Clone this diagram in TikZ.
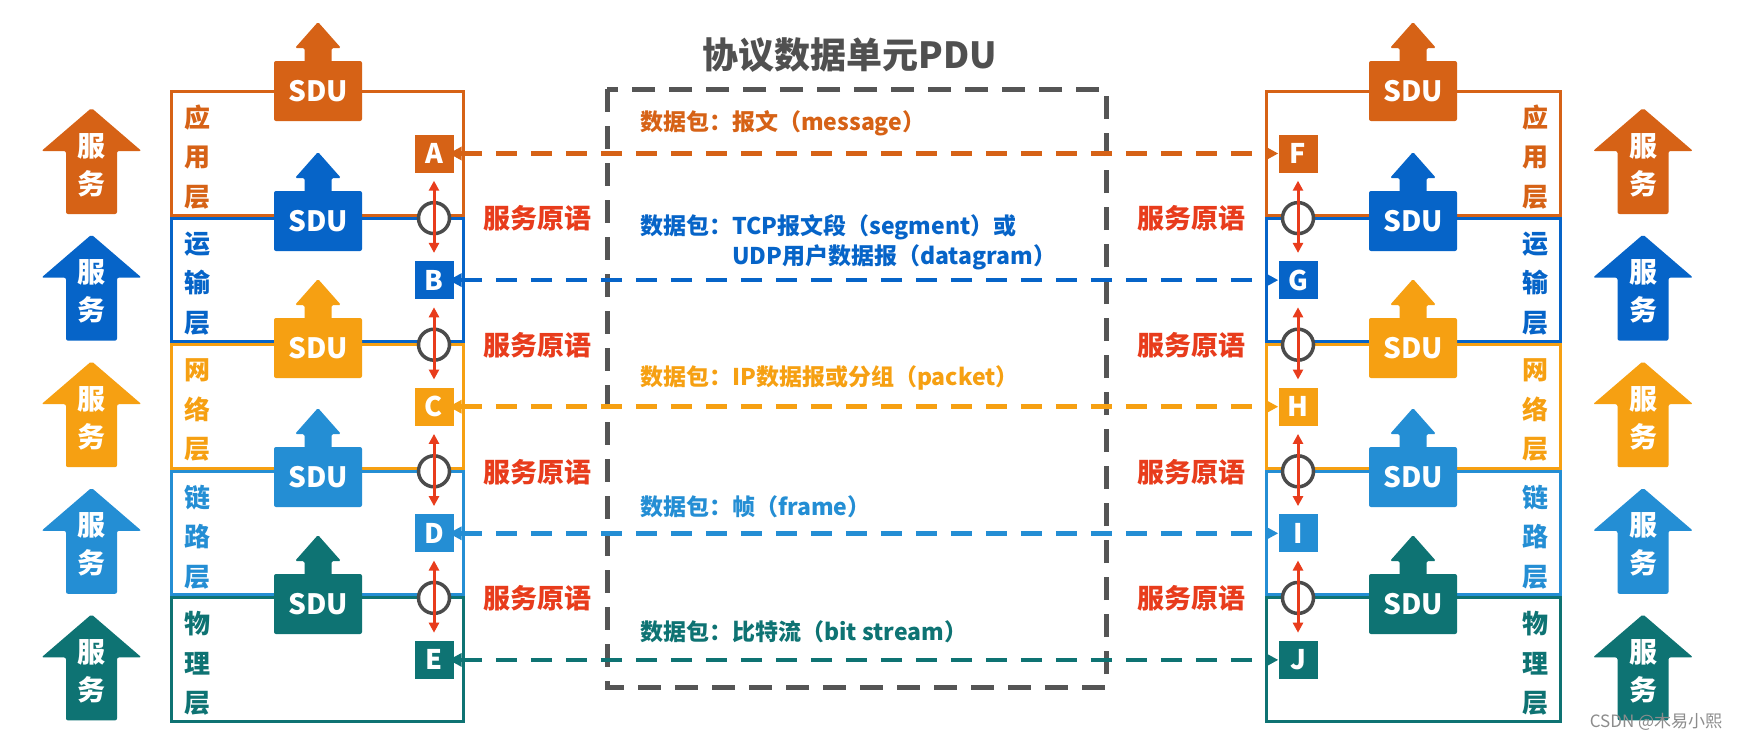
\documentclass[tikz,border=0pt]{standalone}
\usepackage{fontspec}
\setmainfont{Noto Sans CJK SC}
\usetikzlibrary{arrows.meta}
\definecolor{cApp}{RGB}{214,98,22}
\definecolor{cTra}{RGB}{6,100,200}
\definecolor{cNet}{RGB}{246,160,18}
\definecolor{cLnk}{RGB}{36,142,212}
\definecolor{cPhy}{RGB}{14,115,115}
\definecolor{cRed}{RGB}{232,60,28}
\definecolor{cGray}{RGB}{85,85,85}
\definecolor{cCirc}{RGB}{75,75,75}
\definecolor{cTitle}{RGB}{80,80,80}

\tikzset{
  letter/.style={fill=#1, text=white, minimum width=39pt, minimum height=38pt, inner sep=0pt,
    font=\fontsize{27}{27}\selectfont\bfseries},
  sdubox/.style={fill=#1, text=white, rounded corners=2pt, minimum width=88pt, minimum height=60pt,
    inner sep=0pt, font=\fontsize{28}{28}\selectfont\bfseries},
  laytxt/.style={text=#1, align=center, inner sep=0pt, font=\fontsize{26}{39.5}\selectfont\bfseries},
  svctxt/.style={text=white, align=center, inner sep=0pt, font=\fontsize{28}{38}\selectfont\bfseries},
  pdu/.style={draw=#1, line width=4.5pt, dash pattern=on 21pt off 14pt, shorten <=-5pt,
    {Triangle[length=13pt,width=13pt]}-{Triangle[length=13pt,width=13pt]}},
  prim/.style={draw=cRed, line width=3pt, shorten <=8pt, shorten >=8pt,
    {Triangle[length=10pt,width=10pt]}-{Triangle[length=10pt,width=10pt]}},
  circ/.style={circle, draw=cCirc, line width=3.5pt, fill=white, minimum size=31pt, inner sep=0pt},
  primtxt/.style={text=cRed, inner sep=0pt, font=\fontsize{27}{27}\selectfont\bfseries},
  pkt/.style={text=#1, anchor=west, align=left, inner sep=0pt, font=\fontsize{23}{30}\selectfont\bfseries},
}

% #1 name, #2 x centre, #3 tip y, #4 colour
\newcommand\SvcArrow[4]{%
  \fill[#4, rounded corners=2pt] ({(#2)-25.5},{(#3)+106}) -- ({(#2)-25.5},{(#3)+43}) -- ({(#2)-50},{(#3)+43})
    -- ({#2},{#3}) -- ({(#2)+50},{(#3)+43}) -- ({(#2)+25.5},{(#3)+43}) -- ({(#2)+25.5},{(#3)+106}) -- cycle;
  \node[svctxt] (#1) at ({#2},{(#3)+57}) {服\\务};
}
% #1 name, #2 x centre, #3 y centre, #4 colour
\newcommand\SduArrow[4]{%
  \fill[#4, rounded corners=1.5pt] ({(#2)-13.5},{(#3)-26}) -- ({(#2)-13.5},{(#3)-43}) -- ({(#2)-23},{(#3)-43})
    -- ({#2},{(#3)-69}) -- ({(#2)+23},{(#3)-43}) -- ({(#2)+13.5},{(#3)-43}) -- ({(#2)+13.5},{(#3)-26}) -- cycle;
  \node[sdubox=#4] (#1) at ({#2},{#3}) {SDU};
}
% #1 top y, #2 colour
\newcommand\LayerBox[2]{%
  \draw[draw=#2, line width=3pt] (171,{(#1)+1.5}) rectangle (463,{(#1)+125.1});
  \draw[draw=#2, line width=3pt] (1266,{(#1)+1.5}) rectangle (1560,{(#1)+125.1});
}
% #1 top y, #2 colour, #3 #4 #5 label chars, #6 left letter, #7 right letter, #8 SDU y centre
\newcommand\Layer[8]{%
  \node[laytxt=#2] (#6lab) at (197,{(#1)+67}) {#3\\#4\\#5};
  \node[laytxt=#2] (#7lab) at (1535,{(#1)+67}) {#3\\#4\\#5};
  \SduArrow{#6sdu}{318}{#8}{#2}
  \SduArrow{#7sdu}{1413}{#8}{#2}
  \SvcArrow{#6svc}{91.5}{#1+18}{#2}
  \SvcArrow{#7svc}{1643}{#1+18}{#2}
  \node[letter=#2] (#6) at (434,{(#1)+63.5}) {#6};
  \node[letter=#2] (#7) at (1298,{(#1)+63.5}) {#7};
}
% #1 boundary y, #2 upper left, #3 lower left, #4 upper right, #5 lower right
\newcommand\Prim[5]{%
  \node[circ] (c#2#3) at (434,{(#1)+1.5}) {};
  \node[circ] (c#4#5) at (1298,{(#1)+1.5}) {};
  \draw[prim] (#2) -- (#3);
  \draw[prim] (#4) -- (#5);
  \node[primtxt] (p#2#3) at (537,{(#1)+2}) {服务原语};
  \node[primtxt] (p#4#5) at (1191,{(#1)+2}) {服务原语};
}

\begin{document}
\begin{tikzpicture}[x=1pt,y=-1pt]
\fill[white] (0,0) rectangle (1741,739);
\useasboundingbox (0,0) rectangle (1741,739);

% title and PDU box
\node[text=cTitle, font=\fontsize{36}{36}\selectfont\bfseries, inner sep=0pt] (title) at (850,55) {协议数据单元PDU};
\draw[cGray, line width=5pt, dash pattern=on 23pt off 14pt] (607,89) rectangle (1106,687);

% layer frames
\LayerBox{90}{cApp}
\LayerBox{216.6}{cTra}
\LayerBox{343.2}{cNet}
\LayerBox{469.8}{cLnk}
\LayerBox{596.4}{cPhy}

% layer contents (bottom first so upper SDU arrows sit under upper boxes)
\Layer{596.4}{cPhy}{物}{理}{层}{E}{J}{604}
\Layer{469.8}{cLnk}{链}{路}{层}{D}{I}{477}
\Layer{343.2}{cNet}{网}{络}{层}{C}{H}{348}
\Layer{216.6}{cTra}{运}{输}{层}{B}{G}{221}
\Layer{90}{cApp}{应}{用}{层}{A}{F}{91}

% service primitives
\Prim{216.6}{A}{B}{F}{G}
\Prim{343.2}{B}{C}{G}{H}
\Prim{469.8}{C}{D}{H}{I}
\Prim{596.4}{D}{E}{I}{J}

% peer PDU exchanges
\draw[pdu=cApp] (A) -- (F);
\draw[pdu=cTra] (B) -- (G);
\draw[pdu=cNet] (C) -- (H);
\draw[pdu=cLnk] (D) -- (I);
\draw[pdu=cPhy] (E) -- (J);

\node[pkt=cApp] (tApp) at (640,123) {数据包：报文（message）};
\node[pkt=cTra] (tTra) at (640,242) {数据包：TCP报文段（segment）或\\\hphantom{数据包：}UDP用户数据报（datagram）};
\node[pkt=cNet] (tNet) at (640,378) {数据包：IP数据报或分组（packet）};
\node[pkt=cLnk] (tLnk) at (640,507) {数据包：帧（frame）};
\node[pkt=cPhy] (tPhy) at (640,632) {数据包：比特流（bit stream）};

% watermark
\node[text=black!45, font=\fontsize{17}{17}\selectfont, inner sep=0pt] (wm) at (1656,722) {CSDN @木易小熙};
\end{tikzpicture}
\end{document}
